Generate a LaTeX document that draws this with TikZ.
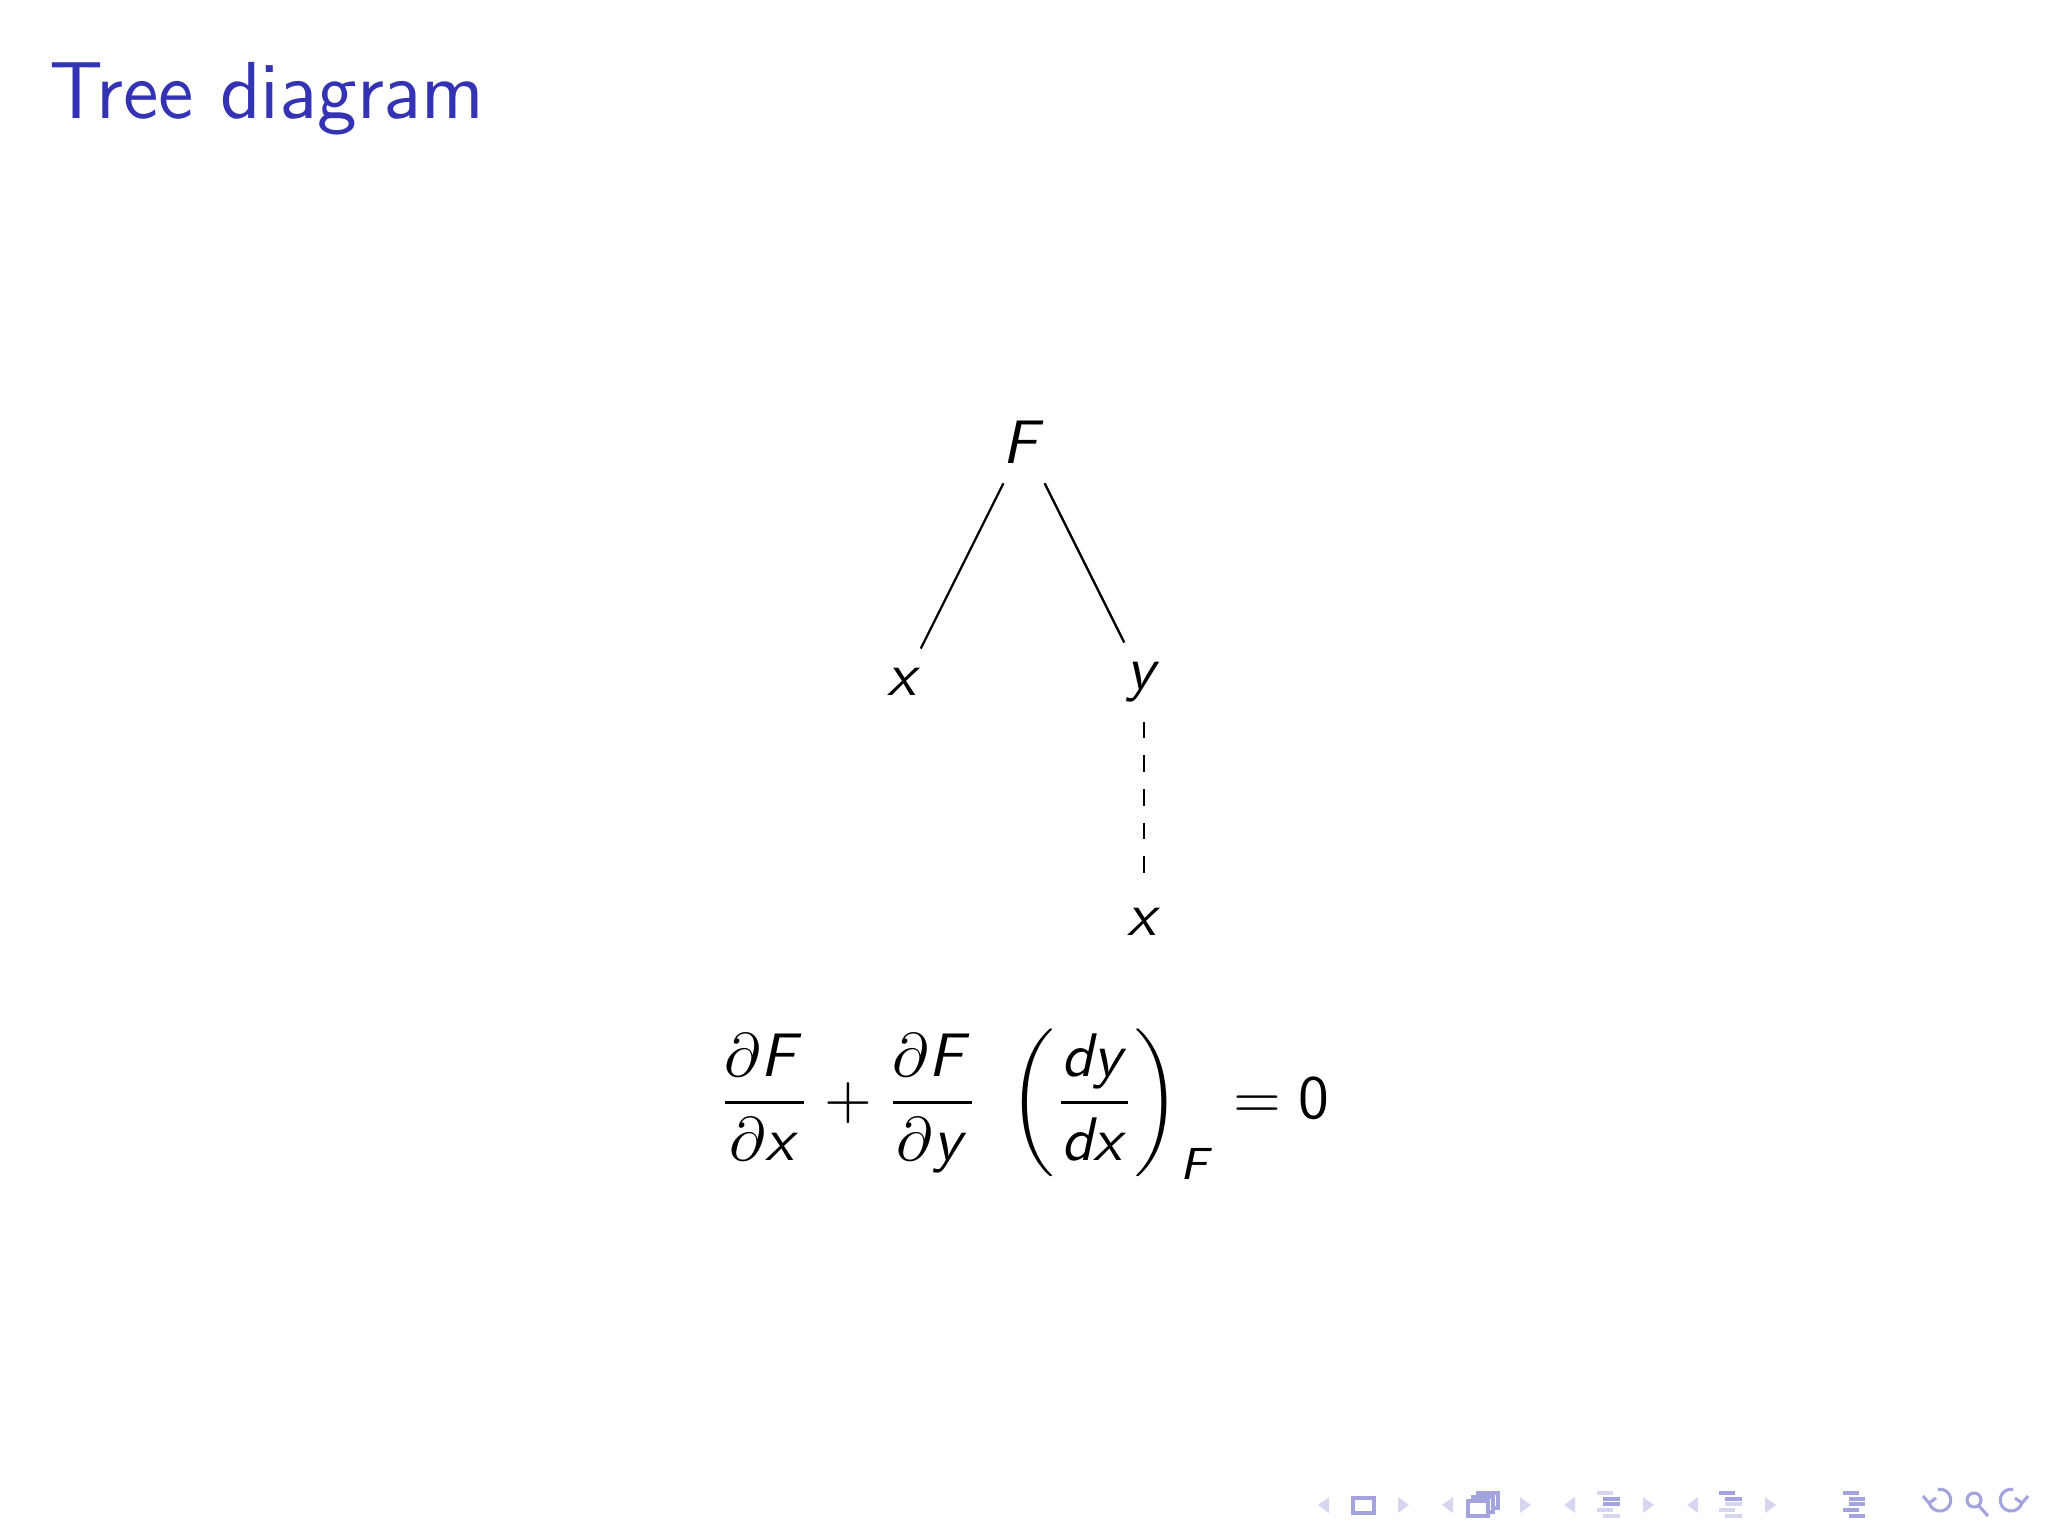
\documentclass[tikz,border=0pt]{standalone}
\usepackage{amsmath}
\DeclareMathAlphabet{\mathsfit}{OT1}{cmss}{m}{sl}
\DeclareMathAlphabet{\mathsfup}{OT1}{cmss}{m}{n}
\newcommand{\sv}[1]{\mathsfit{#1}}
\definecolor{struct}{RGB}{51,51,179}
\colorlet{navdark}{struct!45}
\colorlet{navlight}{struct!20}
\begin{document}
\begin{tikzpicture}[x=0.00625cm, y=-0.00625cm,
    font=\fontsize{11}{13.6}\selectfont]
  \tikzstyle{var}=[inner sep=0.333em]
  \tikzstyle{branch}=[line width=0.4pt]
  \tikzstyle{navicon}=[draw=navdark, line width=0.55pt]
  \tikzstyle{navbar}=[line width=0.6pt]
  \useasboundingbox (0,0) rectangle (2048,1536);
  % frame title
  \node[anchor=base west, inner sep=0, text=struct,
    font=\fontsize{14.4}{18}\selectfont\sffamily] (title) at (48,118) {Tree diagram};
  % tree
  \node[var] (F) at (1024,442) {$\sv{F}$};
  \node[var] (F-x) at (904,682) {$\sv{x}$};
  \node[var] (F-y) at (1144,682) {$\sv{y}$};
  \node[var] (y-x) at (1144,922) {$\sv{x}$};
  \draw[branch] (F) -- (F-x);
  \draw[branch] (F) -- (F-y);
  \draw[branch, dashed] (F-y) -- (y-x);
  % chain rule
  \node[anchor=base west, inner sep=0] (rule) at (717,1118)
    {$\displaystyle \frac{\partial \sv{F}}{\partial \sv{x}}
      + \frac{\partial \sv{F}}{\partial \sv{y}}\ 
      \left(\frac{\sv{dy}}{\sv{dx}}\right)_{\sv{F}} = \mathsfup{0}$};
  % navigation symbols
  \foreach \tx in {1318, 1442, 1564, 1687}
    \fill[navlight] (\tx,1505) -- (\tx+11,1497) -- (\tx+11,1513) -- cycle;
  \foreach \tx in {1398, 1520, 1643, 1765}
    \fill[navlight] (\tx+11,1505) -- (\tx,1497) -- (\tx,1513) -- cycle;
  \draw[navicon] (1353,1498) rectangle (1374,1513);
  \foreach \sx/\sy in {1478/1493, 1473/1497, 1468/1501}
    \draw[navicon, fill=white] (\sx,\sy) rectangle ++(20,15);
  \foreach \lx/\ca/\cb/\cc in {1597/navlight/navdark/navdark, 1719/navdark/navdark/navlight} {
    \draw[navbar, \ca] (\lx,1493) -- ++(16,0);
    \draw[navbar, \cb] (\lx+6,1499) -- ++(17,0);
    \draw[navbar, \cc] (\lx+6,1504) -- ++(17,0);
    \draw[navbar, navlight] (\lx,1510) -- ++(16,0);
    \draw[navbar, navlight] (\lx+6,1516) -- ++(17,0);
  }
  \foreach \ly/\lo in {1493/0, 1499/6, 1504/6, 1510/0, 1516/6}
    \draw[navbar, navdark] (1843+\lo,\ly) -- ++(16,0);
  \draw[navicon] (1929,1502) arc[start angle=170, end angle=-100, radius=11];
  \draw[navicon] (1923,1496) -- (1929,1503) -- (1936,1498);
  \draw[navicon] (1974,1500) circle[radius=7];
  \draw[navicon] (1979,1506) -- (1988,1516);
  \draw[navicon] (2022,1502) arc[start angle=10, end angle=280, radius=11];
  \draw[navicon] (2028,1496) -- (2022,1503) -- (2015,1498);
\end{tikzpicture}
\end{document}
